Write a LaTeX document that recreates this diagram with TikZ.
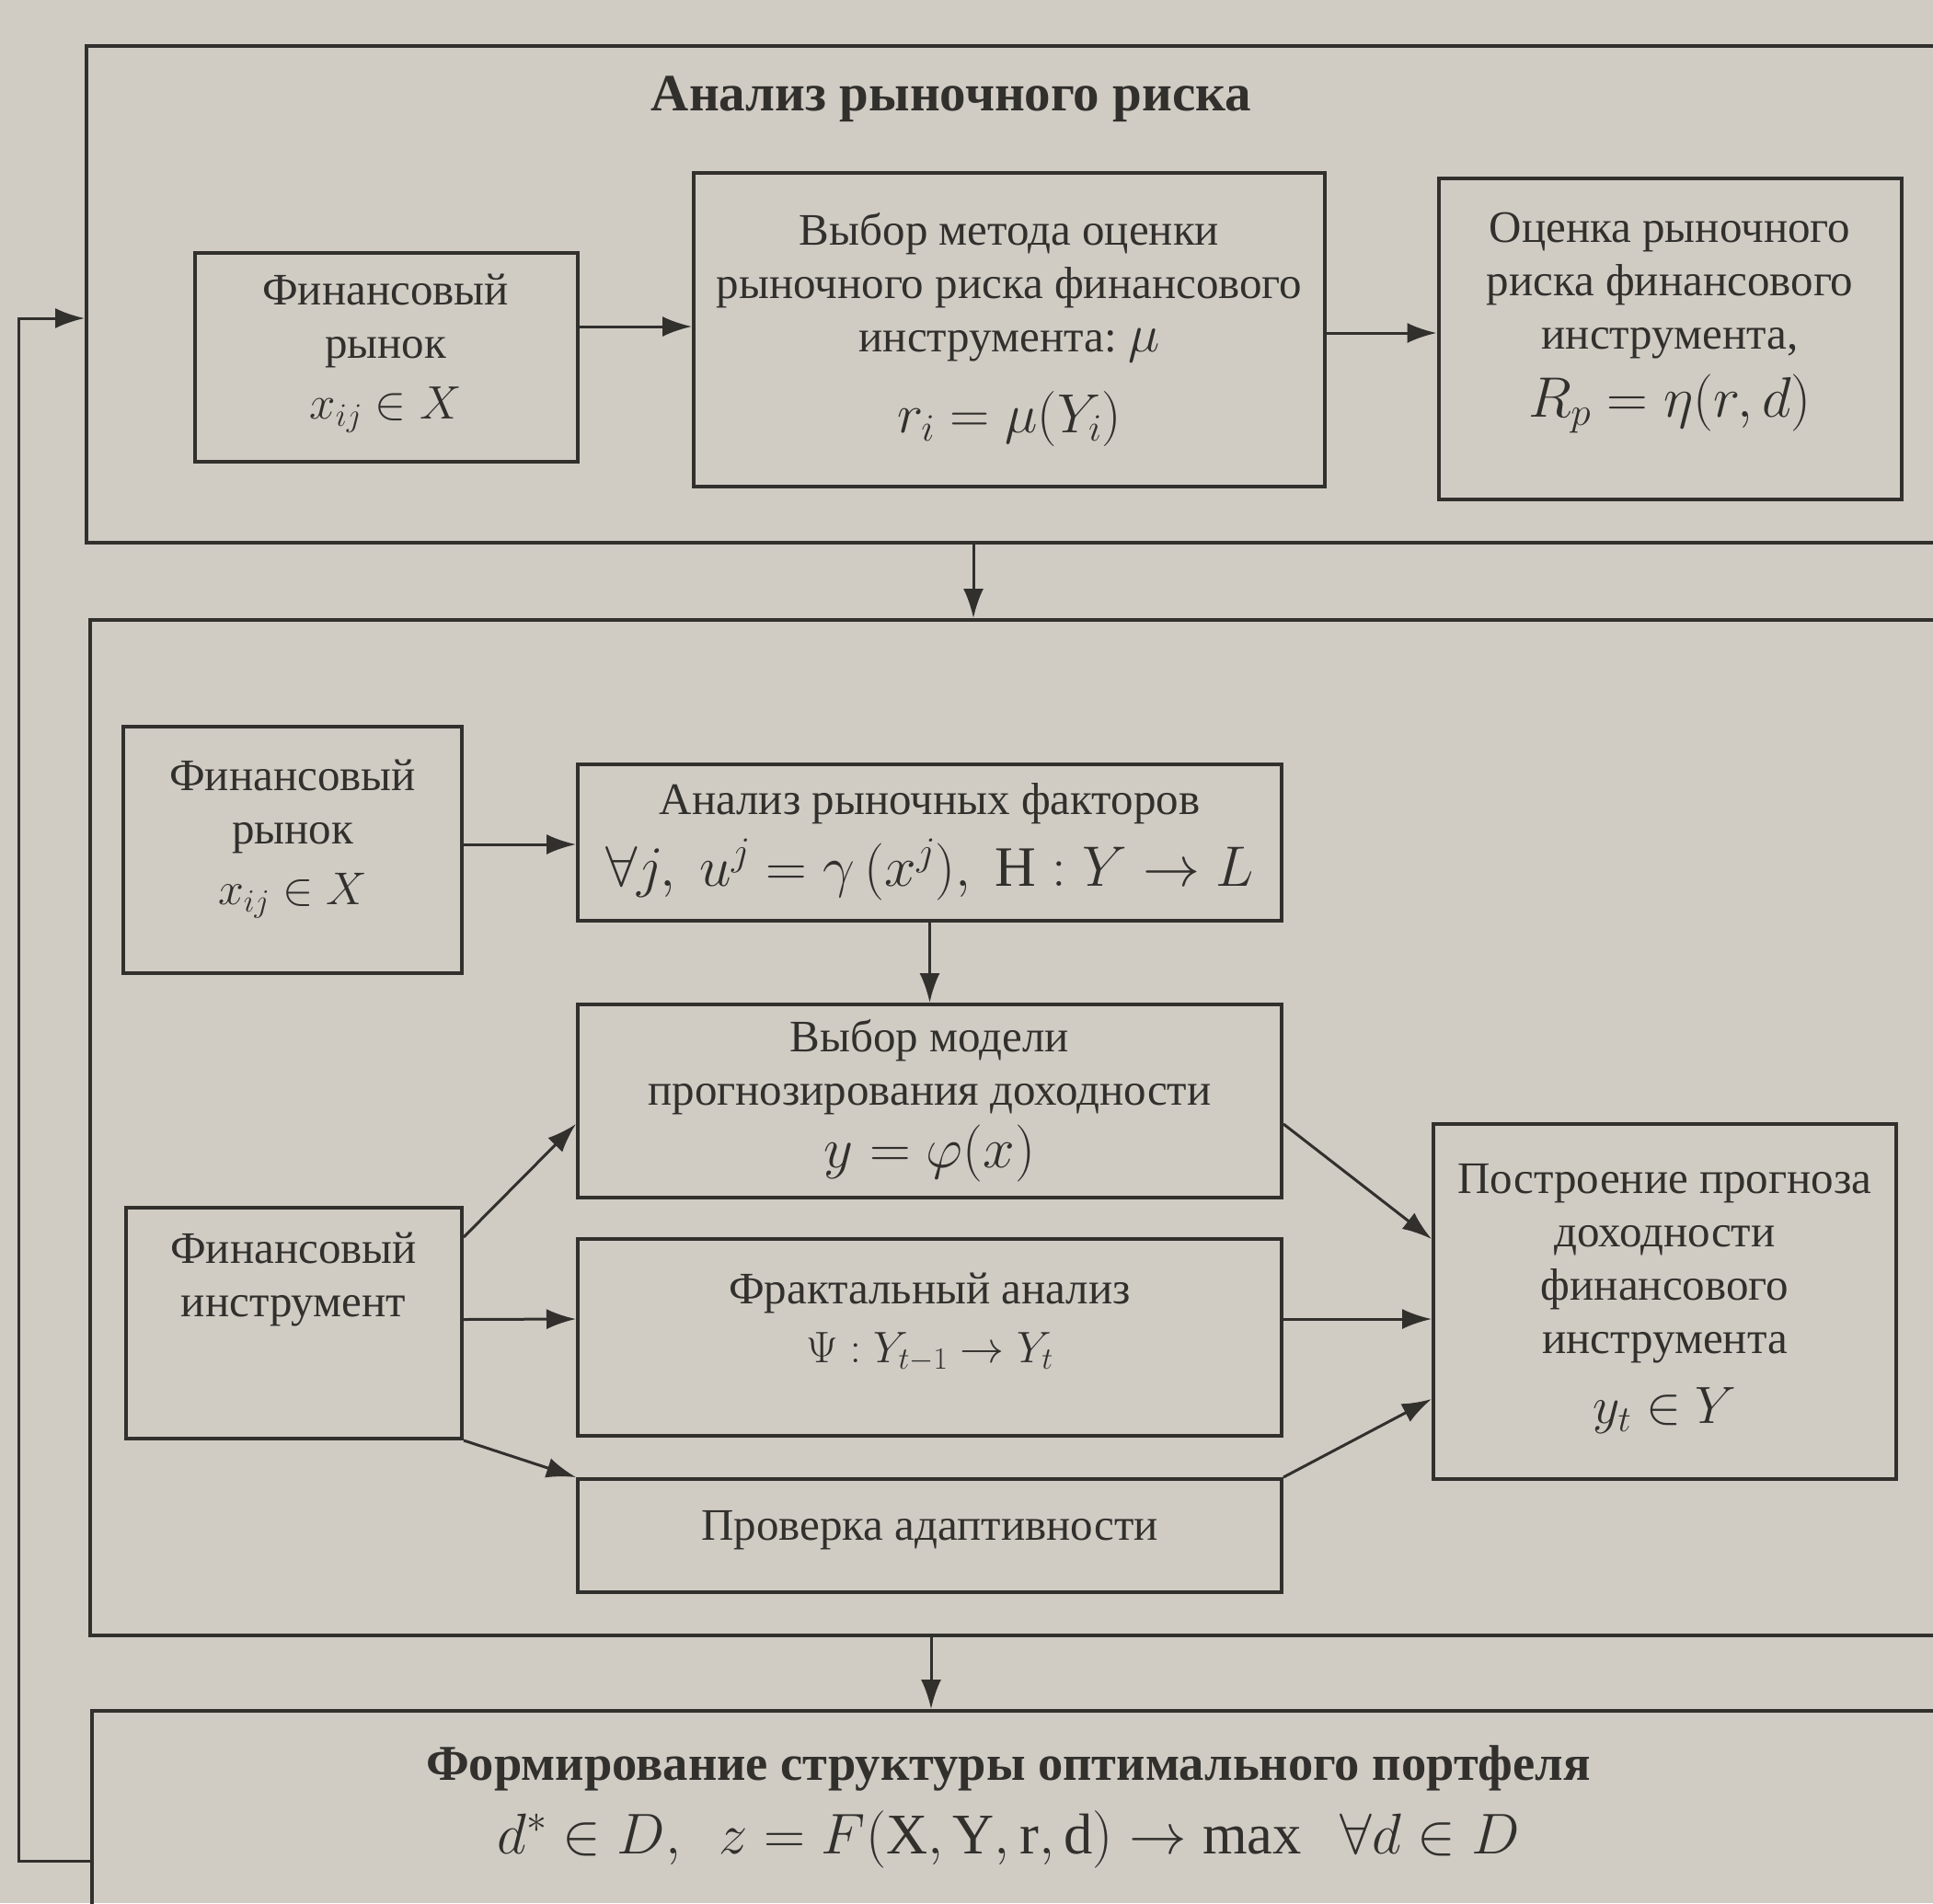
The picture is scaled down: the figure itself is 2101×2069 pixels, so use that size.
\RequirePackage{fix-cm}
\documentclass[tikz,border=0pt]{standalone}
\usepackage{fontspec}
\setmainfont{Liberation Serif}
\usetikzlibrary{arrows.meta,calc}
\definecolor{paper}{RGB}{208,204,196}
\definecolor{ink}{RGB}{50,48,45}
\newcommand{\txt}{\fontsize{49}{58}\selectfont}
\newcommand{\mth}[2]{{\fontsize{#1}{#1}\selectfont$#2$}}
\begin{document}
\begin{tikzpicture}[x=1pt,y=-1pt,
  box/.style={draw=ink,line width=4pt,fill=paper,inner sep=0pt},
  frame/.style={draw=ink,line width=4pt,inner sep=0pt},
  lbl/.style={inner sep=0pt,align=center,text=ink,font=\txt},
  ttl/.style={inner sep=0pt,align=center,text=ink,font=\fontsize{#1}{62}\selectfont\bfseries},
  arr/.style={draw=ink,line width=3pt,-{Latex[length=32pt,width=22pt]}}]
\useasboundingbox (0,0) rectangle (2101,2069);
\fill[paper] (0,0) rectangle (2101,2069);
\clip (0,0) rectangle (2101,2069);
% frames
\node[frame,minimum width=2060,minimum height=540] (f1) at (1124,320) {};
\node[frame,minimum width=2056,minimum height=1104] (f2) at (1126,1226) {};
\node[frame,minimum width=2050,minimum height=300] (f3) at (1125,2010) {};
% boxes
\node[box,minimum width=416,minimum height=227] (fr1) at (420,388) {};
\node[box,minimum width=686,minimum height=341] (vm) at (1097,358) {};
\node[box,minimum width=503,minimum height=349] (ocr) at (1815,368) {};
\node[box,minimum width=368,minimum height=268] (fr2) at (318,924) {};
\node[box,minimum width=765,minimum height=170] (af) at (1010.5,916) {};
\node[box,minimum width=765,minimum height=210] (vmod) at (1010.5,1197) {};
\node[box,minimum width=765,minimum height=214] (fa) at (1010.5,1454) {};
\node[box,minimum width=765,minimum height=123] (pa) at (1010.5,1669.5) {};
\node[box,minimum width=365,minimum height=251] (fi) at (319.5,1438.5) {};
\node[box,minimum width=503,minimum height=386] (pp) at (1809.5,1415) {};
% texts
\node[ttl=57] (t1) at (1034,108) {Анализ рыночного риска};
\node[lbl] (fr1t) at (419,384) {Финансовый\\рынок\\[8pt]\mth{51}{x_{ij}\in X}};
\node[lbl] (vmt) at (1097,358) {Выбор метода оценки\\рыночного риска финансового\\инструмента:\ \mth{58}{\mu}\\[30pt]\mth{60}{r_i=\mu(Y_i)}};
\node[lbl] (ocrt) at (1815,351) {Оценка рыночного\\риска финансового\\инструмента,\\[16pt]\mth{62}{R_p=\eta(r,d)}};
\node[lbl] (fr2t) at (318,912) {Финансовый\\рынок\\[8pt]\mth{50}{x_{ij}\in X}};
\node[lbl] (aft) at (1010.5,915) {Анализ рыночных факторов\\[16pt]\mth{62}{\forall j,\ u^j=\gamma\,(x^j),\ \mathrm{H}:Y\to L}};
\node[lbl] (vmodt) at (1010.5,1197) {Выбор модели\\прогнозирования доходности\\[10pt]\mth{62}{y=\varphi(x)}};
\node[lbl] (fat) at (1010.5,1438) {Фрактальный анализ\\[6pt]\mth{48}{\Psi:Y_{t-1}\to Y_t}};
\node[lbl] (pat) at (1010.5,1664) {Проверка адаптивности};
\node[lbl] (fit) at (319,1391) {Финансовый\\инструмент};
\node[lbl] (ppt) at (1809.5,1412) {Построение прогноза\\доходности\\финансового\\инструмента\\[18pt]\mth{57}{y_t\in Y}};
\node[ttl=54.5] (t3) at (1096,1922) {Формирование структуры оптимального портфеля};
\node[lbl] (m3) at (1096,2000) {\mth{62.5}{d^{*}\in D,\ \ z=F(\mathrm{X},\mathrm{Y},\mathrm{r},\mathrm{d})\to\max\ \ \forall d\in D}};
% connectors, top
\draw[arr] ($(fr1.east)+(0,-33)$) -- ($(vm.west)+(0,-3)$);
\draw[arr] ($(vm.east)+(0,4)$) -- ($(ocr.west)+(0,-6)$);
\coordinate (fbB) at (20,2023);
\coordinate (fbT) at (20,346);
\draw[arr] (f3.west |- fbB) -- (fbB) -- (fbT) -- (f1.west |- fbT);
\coordinate (c1) at (1058,0);
\draw[arr] (f1.south -| c1) -- (f2.north -| c1);
% connectors, middle
\draw[arr] ($(fr2.east)+(0,-6)$) -- ($(af.west)+(0,2)$);
\draw[arr] (af.south) -- (vmod.north);
\draw[arr] ($(fi.north east)+(0,34)$) -- ($(vmod.west)+(0,25)$);
\draw[arr] ($(fi.east)+(0,-4)$) -- ($(fa.west)+(0,-20)$);
\draw[arr] (fi.south east) -- (pa.north west);
\draw[arr] ($(vmod.east)+(0,25)$) -- ($(pp.west)+(0,-68)$);
\draw[arr] ($(fa.east)+(0,-20)$) -- ($(pp.west)+(0,19)$);
\draw[arr] (pa.north east) -- ($(pp.west)+(0,106)$);
\coordinate (c2) at (1012,0);
\draw[arr] (f2.south -| c2) -- (f3.north -| c2);
\end{tikzpicture}
\end{document}
